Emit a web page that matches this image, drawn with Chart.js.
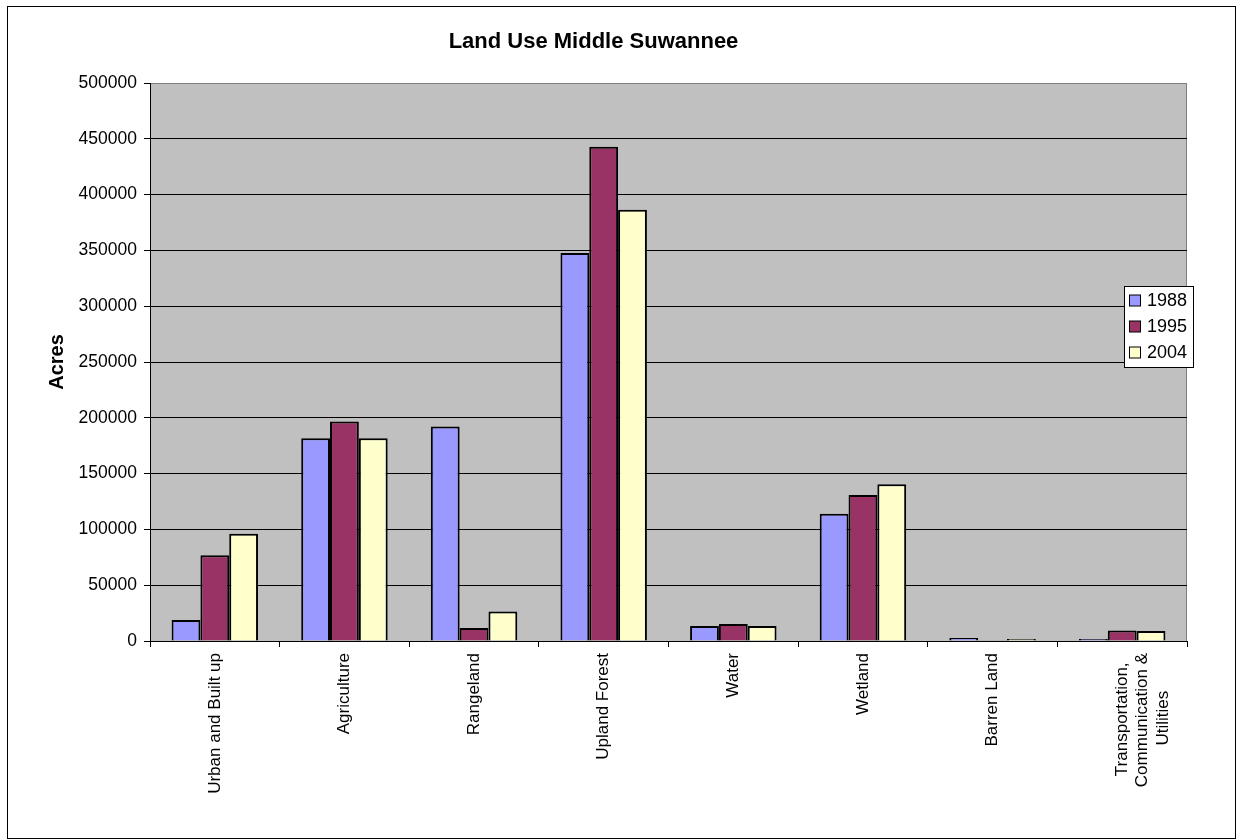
<!DOCTYPE html>
<html>
<head>
<meta charset="utf-8">
<script src="https://cdn.jsdelivr.net/npm/chart.js@4"></script>
<style>
  body { margin: 0; background: #fff; }
  #wrap { position: relative; width: 1238px; height: 840px; }
</style>
</head>
<body>
<div id="wrap"><canvas id="landuse-graph" width="1238" height="840"></canvas></div>
<script>
const categories = ['Urban and Built up', 'Agriculture', 'Rangeland', 'Upland Forest', 'Water', 'Wetland', 'Barren Land',
  ['Transportation,', 'Communication &', 'Utilities']];
const acres1988 = [18900, 181700, 192200, 347700, 13500, 114000, 2800, 1800];
const acres1995 = [76800, 196700, 11700, 442800, 15300, 130800, 300, 9500];
const acres2004 = [96100, 181700, 26400, 386500, 13500, 140400, 1800, 9000];
const yTicks = [0, 50000, 100000, 150000, 200000, 250000, 300000, 350000, 400000, 450000, 500000];

const FONT = 'Liberation Sans, Arial, sans-serif';

// multi-line rotated labels are end-aligned by Chart.js; pad them so the lines look centred
const measurer = document.createElement('canvas').getContext('2d');
function centreLines(label) {
  if (!Array.isArray(label)) return label;
  measurer.font = '17px ' + FONT;
  const nb = '\u00a0';
  const spaceW = measurer.measureText(nb).width;
  const widths = label.map(l => measurer.measureText(l).width);
  const maxW = Math.max(...widths);
  return label.map((l, i) => l + nb.repeat(Math.round((maxW - widths[i]) / 2 / spaceW)));
}

// gray plot area, outer frame and the little legend box inside the plot
const excelLook = {
  id: 'excelLook',
  beforeDraw(chart) {
    const c = chart.ctx;
    const a = chart.chartArea;
    c.save();
    c.fillStyle = '#fff';
    c.fillRect(0, 0, chart.width, chart.height);
    c.strokeStyle = '#000';
    c.lineWidth = 1;
    c.strokeRect(7.5, 6.5, 1228, 832);
    c.fillStyle = '#c0c0c0';
    c.fillRect(a.left, a.top, a.right - a.left, a.bottom - a.top);
    c.strokeStyle = '#808080';
    c.strokeRect(a.left + 0.5, a.top + 0.5, a.right - a.left - 1, a.bottom - a.top);
    c.restore();
  },
  afterDraw(chart) {
    const c = chart.ctx;
    const x = 1124, y = 286, w = 69, h = 81;
    c.save();
    c.fillStyle = '#fff';
    c.fillRect(x, y, w, h);
    c.strokeStyle = '#000';
    c.lineWidth = 1;
    c.strokeRect(x + 0.5, y + 0.5, w, h);
    c.font = '18px ' + FONT;
    c.textBaseline = 'middle';
    chart.data.datasets.forEach((ds, i) => {
      const cy = y + 15 + i * 26;
      c.fillStyle = ds.backgroundColor;
      c.fillRect(x + 5.5, cy - 6, 11, 11);
      c.strokeRect(x + 5.5, cy - 6, 11, 11);
      c.fillStyle = '#000';
      c.fillText(ds.label, x + 23, cy);
    });
    c.restore();
  }
};

const ctx = document.getElementById('landuse-graph').getContext('2d');

const myChart = new Chart(ctx, {
  type: 'bar',
  data: {
    labels: categories,
    datasets: [
      { label: '1988', data: acres1988, backgroundColor: '#9999ff' },
      { label: '1995', data: acres1995, backgroundColor: '#993366' },
      { label: '2004', data: acres2004, backgroundColor: '#ffffcc' }
    ].map(d => Object.assign(d, {
      borderColor: '#000',
      borderWidth: 2,
      barPercentage: 1,
      categoryPercentage: 0.667
    }))
  },
  options: {
    responsive: false,
    animation: false,
    layout: { padding: { left: 0, right: 51, top: 0, bottom: 0 } },
    plugins: {
      legend: { display: false },
      tooltip: { enabled: false },
      title: {
        display: true,
        text: 'Land Use Middle Suwannee',
        color: '#000',
        font: { family: FONT, size: 22, weight: 'bold' },
        padding: { top: 29, bottom: 27.6 }
      }
    },
    scales: {
      x: {
        afterFit: s => { s.height = 199; },
        grid: { drawOnChartArea: false, offset: true, tickLength: 6, color: '#000' },
        border: { color: '#000', width: 1 },
        ticks: {
          color: '#000',
          font: { family: FONT, size: 17 },
          minRotation: 90,
          maxRotation: 90,
          autoSkip: false,
          padding: 6,
          callback: function (v, i) { return centreLines(categories[i]); }
        }
      },
      y: {
        min: 0,
        max: 500000,
        afterFit: s => { s.width = 150; },
        afterBuildTicks: s => { s.ticks = yTicks.map(v => ({ value: v })); },
        grid: {
          color: c => (c.tick && c.tick.value === 500000 ? '#808080' : '#000'),
          tickColor: '#000',
          tickLength: 6
        },
        border: { color: '#000', width: 1 },
        ticks: {
          color: '#000',
          font: { family: FONT, size: 17.5 },
          padding: 7,
          callback: v => String(v)
        },
        title: {
          display: true,
          text: 'Acres',
          color: '#000',
          font: { family: FONT, size: 20, weight: 'bold' },
          padding: { top: 45, bottom: 0 }
        }
      }
    }
  },
  plugins: [excelLook]
});
</script>
</body>
</html>
